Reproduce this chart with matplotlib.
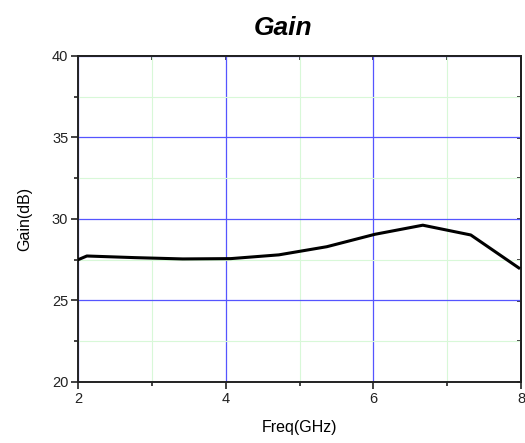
import matplotlib.pyplot as plt
from matplotlib.ticker import MultipleLocator

# Gain vs frequency
freq = [2.0, 2.12, 2.77, 3.42, 4.07, 4.72, 5.37, 6.02, 6.67, 7.32, 7.97]
gain = [27.5, 27.73, 27.63, 27.55, 27.57, 27.8, 28.3, 29.06, 29.62, 29.02, 27.0]

plt.rcParams['font.family'] = ['Liberation Sans', 'DejaVu Sans']

fig = plt.figure(figsize=(5.25, 4.43), dpi=100)
ax = fig.add_axes([78/525, 61/443, 443/525, 326/443])

ax.plot(freq, gain, color='black', linewidth=2.2, zorder=3)

ax.set_xlim(2, 8)
ax.set_ylim(20, 40)
ax.xaxis.set_major_locator(MultipleLocator(2))
ax.xaxis.set_minor_locator(MultipleLocator(1))
ax.yaxis.set_major_locator(MultipleLocator(5))
ax.yaxis.set_minor_locator(MultipleLocator(2.5))

ax.grid(True, which='major', color='#5555ff', linewidth=0.9)
ax.grid(True, which='minor', color='#d8f8d8', linewidth=0.8)

for s in ax.spines.values():
    s.set_linewidth(1.4)
    s.set_color('#222222')

ax.tick_params(which='both', direction='out', width=1.2, labelsize=10.5,
               colors='#222222', pad=2)
ax.tick_params(which='major', length=5)
ax.tick_params(which='minor', length=3)

# inward ticks on top and right, drawn with a twin-free secondary axis
top = ax.secondary_xaxis('top')
top.xaxis.set_major_locator(MultipleLocator(1))
top.tick_params(direction='in', length=3, width=1.2, labeltop=False,
                colors='#222222')
right = ax.secondary_yaxis('right')
right.yaxis.set_major_locator(MultipleLocator(2.5))
right.tick_params(direction='in', length=3, width=1.2, labelright=False,
                  colors='#222222')
top.spines['top'].set_linewidth(1.4)
right.spines['right'].set_linewidth(1.4)

ax.set_xlabel('Freq(GHz)', fontsize=11.5, labelpad=10)
ax.set_ylabel('Gain(dB)', fontsize=11.5, labelpad=14)

fig.text(283/525, 1 - 28/443, 'Gain', fontsize=19, fontweight='bold',
         fontstyle='italic', ha='center', va='center')

fig.savefig('out.png', dpi=100)
